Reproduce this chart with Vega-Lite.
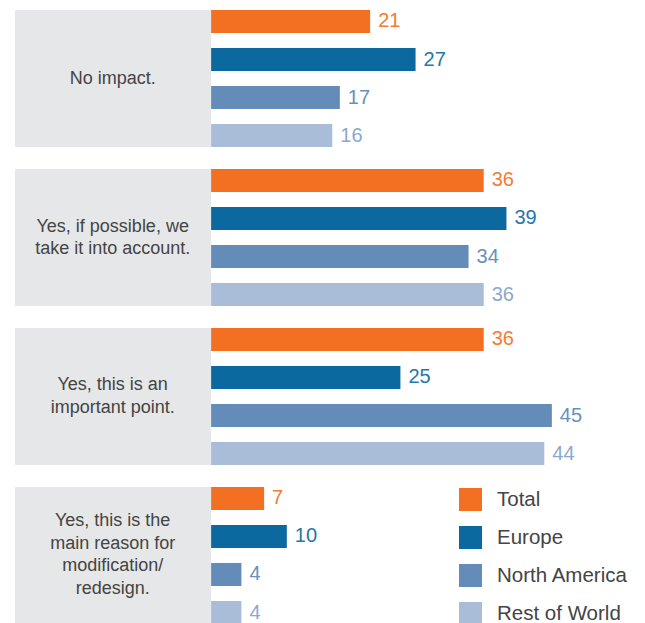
{
  "$schema": "https://vega.github.io/schema/vega-lite/v6.json",
  "width": 630,
  "height": 614,
  "autosize": {"type": "none"},
  "padding": {"left": 15, "top": 10, "right": 0, "bottom": 0},
  "background": "white",
  "config": {"view": {"stroke": null}, "font": "Liberation Sans"},
  "datasets": {
    "groups": [
      {"group": "g1", "label": "No impact.", "lines": 1, "from": -25.9, "to": 0, "mid": -13},
      {"group": "g2", "label": "Yes, if possible, we\ntake it into account.", "lines": 2, "from": -25.9, "to": 0, "mid": -13},
      {"group": "g3", "label": "Yes, this is an\nimportant point.", "lines": 2, "from": -25.9, "to": 0, "mid": -13},
      {"group": "g4", "label": "Yes, this is the\nmain reason for\nmodification/\nredesign.", "lines": 4, "from": -25.9, "to": 0, "mid": -13}
    ],
    "bars": [
      {"group": "g1", "region": "Total", "value": 21},
      {"group": "g1", "region": "Europe", "value": 27},
      {"group": "g1", "region": "North America", "value": 17},
      {"group": "g1", "region": "Rest of World", "value": 16},
      {"group": "g2", "region": "Total", "value": 36},
      {"group": "g2", "region": "Europe", "value": 39},
      {"group": "g2", "region": "North America", "value": 34},
      {"group": "g2", "region": "Rest of World", "value": 36},
      {"group": "g3", "region": "Total", "value": 36},
      {"group": "g3", "region": "Europe", "value": 25},
      {"group": "g3", "region": "North America", "value": 45},
      {"group": "g3", "region": "Rest of World", "value": 44},
      {"group": "g4", "region": "Total", "value": 7},
      {"group": "g4", "region": "Europe", "value": 10},
      {"group": "g4", "region": "North America", "value": 4},
      {"group": "g4", "region": "Rest of World", "value": 4}
    ]
  },
  "layer": [
    {
      "data": {"name": "groups"},
      "mark": {"type": "bar", "color": "#e6e7e8"},
      "encoding": {
        "y": {"field": "group", "type": "nominal", "axis": null, "sort": ["g1", "g2", "g3", "g4"], "scale": {"paddingInner": 0.138, "paddingOuter": 0}},
        "x": {"field": "from", "type": "quantitative", "axis": null, "scale": {"domain": [-25.9, 57.3], "nice": false, "zero": false}},
        "x2": {"field": "to"}
      }
    },
    {
      "data": {"name": "groups"},
      "transform": [{"filter": "datum.lines == 1"}],
      "mark": {"type": "text", "align": "center", "baseline": "middle", "fontSize": 18, "lineHeight": 22.5, "color": "#444444", "lineBreak": "\n"},
      "encoding": {
        "y": {"field": "group", "type": "nominal", "axis": null, "sort": ["g1", "g2", "g3", "g4"]},
        "x": {"field": "mid", "type": "quantitative"},
        "text": {"field": "label"}
      }
    },
    {
      "data": {"name": "groups"},
      "transform": [{"filter": "datum.lines == 2"}],
      "mark": {"type": "text", "align": "center", "baseline": "middle", "dy": -11, "fontSize": 18, "lineHeight": 22.5, "color": "#444444", "lineBreak": "\n"},
      "encoding": {
        "y": {"field": "group", "type": "nominal", "axis": null, "sort": ["g1", "g2", "g3", "g4"]},
        "x": {"field": "mid", "type": "quantitative"},
        "text": {"field": "label"}
      }
    },
    {
      "data": {"name": "groups"},
      "transform": [{"filter": "datum.lines == 4"}],
      "mark": {"type": "text", "align": "center", "baseline": "middle", "dy": -34, "fontSize": 18, "lineHeight": 22.5, "color": "#444444", "lineBreak": "\n"},
      "encoding": {
        "y": {"field": "group", "type": "nominal", "axis": null, "sort": ["g1", "g2", "g3", "g4"]},
        "x": {"field": "mid", "type": "quantitative"},
        "text": {"field": "label"}
      }
    },
    {
      "data": {"name": "bars"},
      "mark": {"type": "bar"},
      "encoding": {
        "y": {"field": "group", "type": "nominal", "axis": null, "sort": ["g1", "g2", "g3", "g4"]},
        "yOffset": {"field": "region", "type": "nominal", "sort": ["Total", "Europe", "North America", "Rest of World"], "scale": {"paddingInner": 0.395, "paddingOuter": 0}},
        "x": {"field": "value", "type": "quantitative"},
        "color": {
          "field": "region", "type": "nominal",
          "sort": ["Total", "Europe", "North America", "Rest of World"],
          "scale": {"domain": ["Total", "Europe", "North America", "Rest of World"], "range": ["#f36f21", "#0b69a0", "#638cb9", "#a9bcd8"]},
          "legend": {
            "title": null, "orient": "none", "legendX": 444, "legendY": 478,
            "symbolType": "square", "symbolSize": 529, "symbolStrokeWidth": 0, "symbolOpacity": 1,
            "labelFontSize": 20.5, "labelColor": "#444444", "labelFont": "Liberation Sans", "labelOffset": 15,
            "rowPadding": 15, "padding": 0, "labelLimit": 300
          }
        }
      }
    },
    {
      "data": {"name": "bars"},
      "mark": {"type": "text", "align": "left", "baseline": "middle", "dx": 8, "fontSize": 20},
      "encoding": {
        "y": {"field": "group", "type": "nominal", "axis": null, "sort": ["g1", "g2", "g3", "g4"]},
        "yOffset": {"field": "region", "type": "nominal", "sort": ["Total", "Europe", "North America", "Rest of World"]},
        "x": {"field": "value", "type": "quantitative"},
        "text": {"field": "value", "type": "quantitative"},
        "color": {
          "field": "region", "type": "nominal",
          "scale": {"domain": ["Total", "Europe", "North America", "Rest of World"], "range": ["#f47b35", "#2576ad", "#6890bd", "#8ba8cf"]},
          "legend": null
        }
      }
    }
  ],
  "resolve": {"scale": {"color": "independent"}}
}
